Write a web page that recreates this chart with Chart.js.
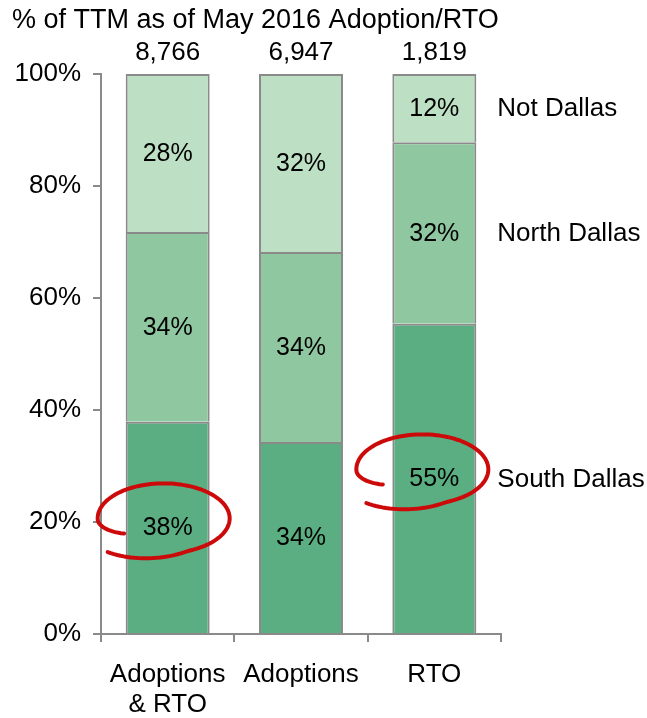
<!DOCTYPE html>
<html>
<head>
<meta charset="utf-8">
<script src="https://cdn.jsdelivr.net/npm/chart.js@4/dist/chart.umd.min.js"></script>
<style>
  html, body { margin: 0; padding: 0; background: #fff; }
  #wrap { width: 647px; height: 718px; }
</style>
</head>
<body>
<div id="wrap"><canvas id="c" width="647" height="718"></canvas></div>
<script>
// Share of trailing-twelve-month volume by area, per program
const categories = [["Adoptions", "& RTO"], "Adoptions", "RTO"];
const totals = [8766, 6947, 1819];
const southDallas = [37.9, 34.3, 55.4];
const northDallas = [33.9, 33.9, 32.4];
const notDallas = [28.2, 31.8, 12.2];
const yTicks = [0, 20, 40, 60, 80, 100];
const titleText = "% of TTM as of May 2016 Adoption/RTO";
// bars to ring with a red pen stroke: [datasetIndex, categoryIndex]
const highlights = [[0, 0], [0, 2]];

const FONT = "'Liberation Sans', Arial, sans-serif";
Chart.defaults.font.family = FONT;
Chart.defaults.color = '#000';

// horizontal nudge of each pen ring relative to its bar centre
const ringShift = [-4, -12];

const segmentLabels = {
  id: 'segmentLabels',
  afterDatasetsDraw(chart) {
    const ctx = chart.ctx;
    ctx.save();
    ctx.font = '25px ' + FONT;
    ctx.fillStyle = '#000';
    ctx.textAlign = 'center';
    ctx.textBaseline = 'middle';
    chart.data.datasets.forEach((ds, di) => {
      const meta = chart.getDatasetMeta(di);
      meta.data.forEach((bar, i) => {
        const yc = (bar.y + bar.base) / 2;
        ctx.fillText(Math.round(ds.data[i]) + '%', bar.x, yc + 1);
      });
      // series name beside the last bar
      const last = meta.data[meta.data.length - 1];
      ctx.save();
      ctx.font = '26px ' + FONT;
      ctx.textAlign = 'left';
      ctx.fillText(ds.label, last.x + last.width / 2 + 21, (last.y + last.base) / 2 + 1);
      ctx.restore();
    });
    // totals above each bar
    const top = chart.getDatasetMeta(0).data;
    ctx.font = '26px ' + FONT;
    top.forEach((bar, i) => {
      ctx.fillText(totals[i].toLocaleString('en-US'), bar.x, 53);
    });
    // title
    ctx.font = '27px ' + FONT;
    ctx.textAlign = 'left';
    ctx.fillText(titleText, 12, 21);
    ctx.restore();
  }
};

const penRings = {
  id: 'penRings',
  afterDraw(chart) {
    const ctx = chart.ctx;
    ctx.save();
    ctx.strokeStyle = '#cc0a0a';
    ctx.lineWidth = 4;
    ctx.lineCap = 'round';
    ctx.lineJoin = 'round';
    highlights.forEach(([di, ci], h) => {
      const bar = chart.getDatasetMeta(di).data[ci];
      const cx = bar.x + ringShift[h];
      const cy = (bar.y + bar.base) / 2 - 9;
      const rx = 66, ry = 35;
      const t0 = 144 * Math.PI / 180;
      const t1 = (137 + 360) * Math.PI / 180;
      ctx.beginPath();
      const n = 120;
      for (let k = 0; k <= n; k++) {
        const t = t0 + (t1 - t0) * k / n;
        let s = 1;
        const a = t - t0, b = t1 - t;
        if (a < 0.6) s = 0.74 + 0.26 * Math.sin(a / 0.6 * Math.PI / 2);
        if (b < 1.2) s = 1 + 0.16 * (1 - b / 1.2);
        const x = cx + rx * s * Math.cos(t);
        const y = cy + ry * s * Math.sin(t) + (s > 1 ? 6 * (s - 1) / 0.16 : 0);
        if (k === 0) ctx.moveTo(x, y); else ctx.lineTo(x, y);
      }
      ctx.stroke();
    });
    ctx.restore();
  }
};

const common = {
  borderColor: '#8a8a8a',
  borderWidth: 2,
  borderSkipped: 'start',
  barPercentage: 0.63,
  categoryPercentage: 1.0
};

new Chart(document.getElementById('c'), {
  type: 'bar',
  data: {
    labels: categories,
    datasets: [
      Object.assign({ label: 'South Dallas', data: southDallas, backgroundColor: '#5aae82' }, common),
      Object.assign({ label: 'North Dallas', data: northDallas, backgroundColor: '#8fc7a0' }, common),
      Object.assign({ label: 'Not Dallas', data: notDallas, backgroundColor: '#bde0c5' }, common)
    ]
  },
  options: {
    responsive: false,
    animation: false,
    layout: { padding: { top: 74, right: 146, left: 0, bottom: 0 } },
    plugins: { legend: { display: false }, tooltip: { enabled: false } },
    scales: {
      x: {
        stacked: true,
        grid: { drawOnChartArea: false, drawTicks: true, tickLength: 8, color: '#8a8a8a', lineWidth: 2, offset: true },
        border: { display: true, color: '#8a8a8a', width: 2 },
        ticks: { font: { size: 26, lineHeight: 1.15 }, color: '#000', padding: 18, maxRotation: 0, autoSkip: false },
        afterFit(scale) { scale.height = 84; }
      },
      y: {
        stacked: true,
        min: 0, max: 100,
        afterBuildTicks(scale) { scale.ticks = yTicks.map(v => ({ value: v })); },
        grid: { drawOnChartArea: false, drawTicks: true, tickLength: 8, color: '#8a8a8a', lineWidth: 2 },
        border: { display: true, color: '#8a8a8a', width: 2 },
        ticks: { font: { size: 26 }, color: '#000', padding: 12, callback: v => v + '%' },
        afterFit(scale) { scale.width = 101; }
      }
    }
  },
  plugins: [segmentLabels, penRings]
});
</script>
</body>
</html>
